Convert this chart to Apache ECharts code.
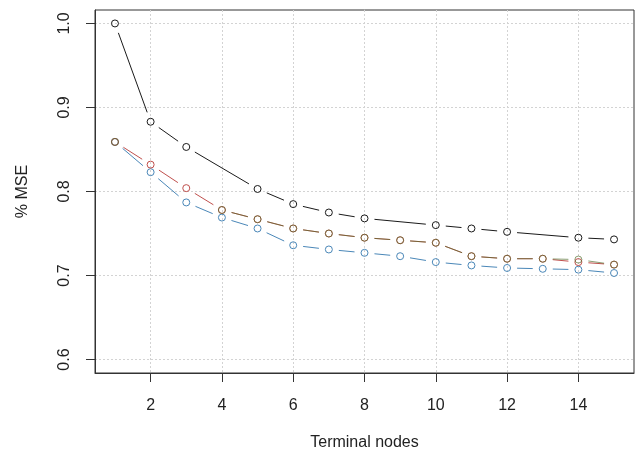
<!DOCTYPE html>
<html><head><meta charset="utf-8">
<script src="https://cdn.jsdelivr.net/npm/echarts@6/dist/echarts.min.js"></script>
<style>html,body{margin:0;padding:0;background:#fff}#c{width:637px;height:462px}</style>
</head><body><div id="c"></div>
<script>
// ---- data ----
const nodes      = [1,2,3,4,5,6,7,8,9,10,11,12,13,14,15];
const blackNodes = [1,2,3,5,6,7,8,10,11,12,14,15];
const blackMSE   = [1.000,0.883,0.853,0.803,0.785,0.775,0.768,0.760,0.756,0.752,0.745,0.743];
const redMSE     = [0.859,0.832,0.804,0.778,0.767,0.756,0.750,0.745,0.742,0.739,0.723,0.720,0.720,0.716,0.713];
const greenMSE   = [0.859,null,null,0.778,0.767,0.756,0.750,0.745,0.742,0.739,0.723,0.720,0.720,0.719,0.713];
const blueMSE    = [0.859,0.823,0.787,0.769,0.756,0.736,0.731,0.727,0.723,0.716,0.712,0.709,0.708,0.707,0.703];
const xTicks = [2,4,6,8,10,12,14];
const yTicks = [0.6,0.7,0.8,0.9,1.0];

const FONT = 'Liberation Sans, Arial, sans-serif';
const GAP = 10; // R type="b" gap around points (px)

function pairs(xs, ys){ const o=[]; for(let i=0;i<xs.length;i++){ if(ys[i]!=null) o.push([xs[i],ys[i]]); } return o; }
function segs(xs, ys){ const o=[]; for(let i=0;i<xs.length-1;i++){ if(ys[i]!=null && ys[i+1]!=null) o.push([xs[i],ys[i],xs[i+1],ys[i+1]]); } return o; }

function makeSeries(name, xs, ys, color, opacity){
  return [{
    name: name+'-lines', type:'custom', data: segs(xs, ys),
    encode:{x:[0,2], y:[1,3]}, silent:true,
    renderItem: function(params, api){
      const p1 = api.coord([api.value(0), api.value(1)]);
      const p2 = api.coord([api.value(2), api.value(3)]);
      const dx = p2[0]-p1[0], dy = p2[1]-p1[1];
      const L = Math.sqrt(dx*dx+dy*dy);
      if (L <= 2*GAP) return null;
      const ux = dx/L, uy = dy/L;
      return {type:'line', shape:{x1:p1[0]+ux*GAP, y1:p1[1]+uy*GAP, x2:p2[0]-ux*GAP, y2:p2[1]-uy*GAP},
              style:{stroke:color, lineWidth:1, opacity:opacity}};
    }
  },{
    name: name, type:'scatter', data: pairs(xs, ys), symbol:'circle', symbolSize:7,
    silent:true,
    itemStyle:{color:'rgba(0,0,0,0)', borderColor:color, borderWidth:1, opacity:opacity}
  }];
}

const chart = echarts.init(document.getElementById('c'), null, {renderer:'canvas'});
chart.setOption({
  animation:false,
  backgroundColor:'#fff',
  grid:{left:95, right:3, top:10, bottom:89, show:true, borderColor:'#333', borderWidth:1, outerBoundsMode:'none'},
  xAxis:{
    type:'value', min:0.44, max:15.56,
    name:'Terminal nodes', nameLocation:'middle', nameGap:62,
    nameTextStyle:{fontSize:16, color:'#222', fontFamily:FONT},
    axisLine:{show:true, lineStyle:{color:'#333', width:1}},
    axisTick:{show:true, length:9, customValues:xTicks, lineStyle:{color:'#333'}},
    axisLabel:{customValues:xTicks, fontSize:16, color:'#222', margin:25, fontFamily:FONT},
    splitLine:{show:true, lineStyle:{color:'#d3d3d3', type:[2,2], width:1}}
  },
  yAxis:{
    type:'value', min:0.584, max:1.016,
    name:'% MSE', nameLocation:'middle', nameGap:64, nameRotate:90,
    nameTextStyle:{fontSize:16, color:'#222', fontFamily:FONT},
    axisLine:{show:true, lineStyle:{color:'#333', width:1}},
    axisTick:{show:true, length:9, customValues:yTicks, lineStyle:{color:'#333'}},
    axisLabel:{customValues:yTicks, rotate:90, fontSize:16, color:'#222', margin:22, fontFamily:FONT,
               formatter:function(v){return v.toFixed(1);}},
    splitLine:{show:true, lineStyle:{color:'#d3d3d3', type:[2,2], width:1}}
  },
  series:[].concat(
    makeSeries('black', blackNodes, blackMSE, '#1a1a1a', 1),
    makeSeries('blue', nodes, blueMSE, '#4a87b8', 1),
    makeSeries('red', nodes, redMSE, '#c0504d', 1),
    makeSeries('green', nodes, greenMSE, '#4f6b2a', 0.65)
  )
});
</script></body></html>
